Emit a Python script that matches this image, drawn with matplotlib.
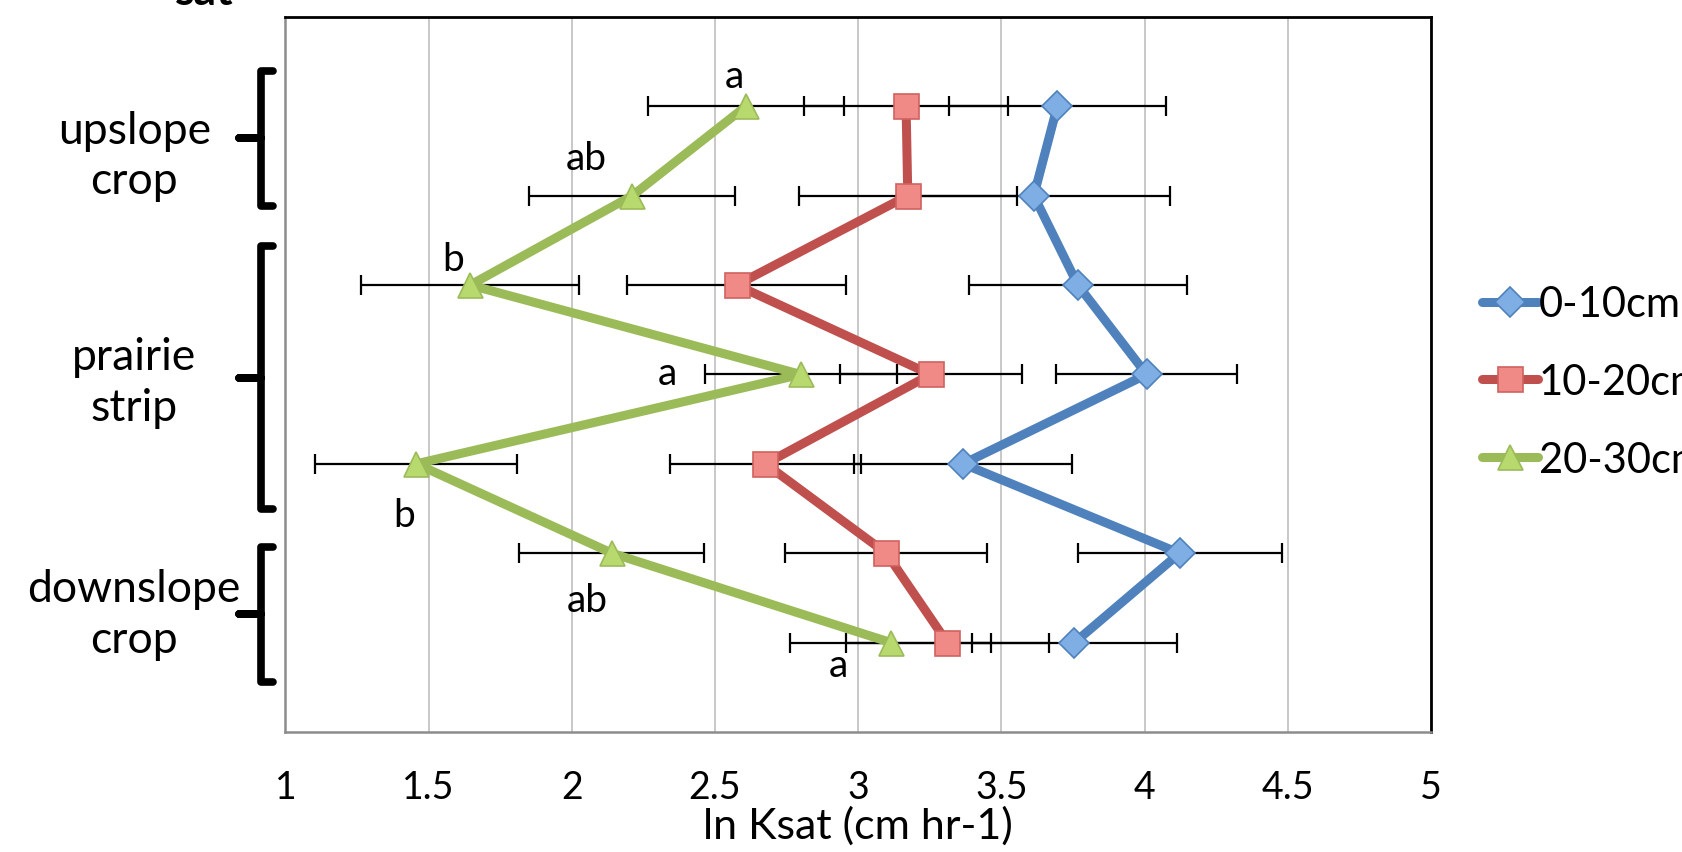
import numpy as np
import matplotlib
matplotlib.use('Agg')
import matplotlib.pyplot as plt

plt.rcParams['font.family'] = ['Lato', 'DejaVu Sans']

# ln Ksat by row (top to bottom), one list per depth
series = ["0-10cm", "10-20cm", "20-30cm"]
ksat_0_10  = [3.695, 3.613, 3.767, 4.007, 3.366, 4.122, 3.755]
ksat_10_20 = [3.167, 3.173, 2.575, 3.253, 2.676, 3.098, 3.311]
ksat_20_30 = [2.608, 2.211, 1.645, 2.799, 1.457, 2.140, 3.114]

err_0_10  = [0.378, 0.475, 0.381, 0.316, 0.381, 0.356, 0.357]
err_10_20 = [0.355, 0.380, 0.383, 0.318, 0.333, 0.352, 0.355]
err_20_30 = [0.341, 0.360, 0.380, 0.335, 0.353, 0.323, 0.351]

letters = ["a", "ab", "b", "a", "b", "ab", "a"]
letter_off = [(-8, 22), (-33, 27), (-12, 19), (-96, 1), (-9, -37), (-18, -34), (-38, -16)]

groups = ["upslope\ncrop", "prairie\nstrip", "downslope\ncrop"]
group_rows = [(0.60, 1.35, 2.11), (2.56, 4.04, 5.50), (5.93, 6.68, 7.44)]
group_mid = [1.55, 4.08, 6.68]

xticks = [1, 1.5, 2, 2.5, 3, 3.5, 4, 4.5, 5]

rows = np.arange(1, len(ksat_0_10) + 1)

styles = [
    dict(color="#4F81BD", marker="D", mfc="#7EAEE4", mec="#4F81BD", ms=15),
    dict(color="#C0504D", marker="s", mfc="#F08A86", mec="#D0625E", ms=18),
    dict(color="#9BBB59", marker="^", mfc="#B8D96E", mec="#9BBB59", ms=18),
]

fig = plt.figure(figsize=(16.83, 8.53), dpi=100)
ax = fig.add_axes([0.1696, 0.1407, 0.6807, 0.8383])

vals = [ksat_0_10, ksat_10_20, ksat_20_30]
errs = [err_0_10, err_10_20, err_20_30]
for v, e, lab, st in zip(vals, errs, series, styles):
    ax.errorbar(v, rows, xerr=e, fmt='none', ecolor='black', elinewidth=1.6,
                capsize=7, capthick=1.6, zorder=3)
    ax.plot(v, rows, color=st["color"], lw=6.5, marker=st["marker"], ms=st["ms"],
            mfc=st["mfc"], mec=st["mec"], mew=1.2, label=lab, zorder=4,
            solid_capstyle='round')

for i, t in enumerate(letters):
    ax.annotate(t, (ksat_20_30[i], rows[i]), xytext=letter_off[i], textcoords='offset points',
                ha='center', va='center', fontsize=28, zorder=6)

ax.set_xlim(1, 5)
ax.set_ylim(8, 0)
ax.set_xticks(xticks)
ax.set_xticklabels([f"{t:g}" for t in xticks], fontsize=27)
ax.tick_params(axis='x', length=0, pad=27)
ax.set_yticks([])
ax.grid(axis='x', color='#C4C4C4', lw=1.3)
ax.set_axisbelow(True)
for s in ['top', 'right']:
    ax.spines[s].set_color('black')
    ax.spines[s].set_linewidth(2)
for s in ['left', 'bottom']:
    ax.spines[s].set_color('#8C8C8C')
    ax.spines[s].set_linewidth(1.8)
ax.set_xlabel("ln Ksat (cm hr-1)", fontsize=31, labelpad=0)

# group braces and labels
tr = ax.get_yaxis_transform()
for (top, mid, bot), lab, ym in zip(group_rows, groups, group_mid):
    bx = [-0.0105, -0.0215, -0.0215, -0.0406, -0.0215, -0.0215, -0.0105]
    by = [top, top, mid, mid, mid, bot, bot]
    ax.plot(bx, by, transform=tr, color='black', lw=5.5, clip_on=False,
            solid_joinstyle='round', solid_capstyle='round')
    ax.text(-0.132, ym, lab, transform=tr, ha='center', va='center',
            fontsize=32, linespacing=1.3)

ax.legend(loc='center left', bbox_to_anchor=(0.8805, 0.551), bbox_transform=fig.transFigure,
          frameon=False, fontsize=30, handlelength=1.35, handletextpad=0.02,
          labelspacing=0.95, borderaxespad=0, borderpad=0)

# cut-off title remnants at the very top
fig.text(0.104, 0.994, "sat", fontsize=32, fontweight='bold', va='baseline', ha='left')

fig.savefig("out.png", dpi=100)
